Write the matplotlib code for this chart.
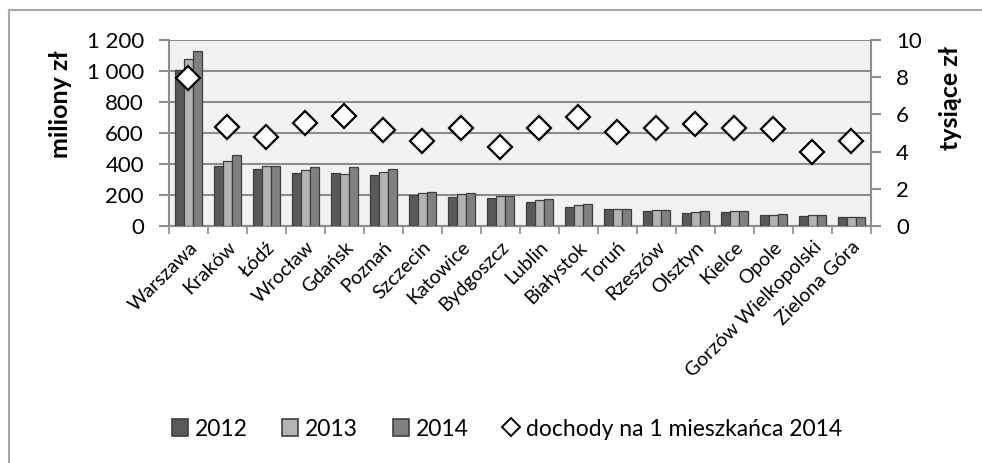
import matplotlib
matplotlib.use("Agg")
import matplotlib.pyplot as plt
import numpy as np
from matplotlib.patches import Patch
from matplotlib.lines import Line2D
from matplotlib.ticker import FuncFormatter

plt.rcParams['font.family'] = ['Lato', 'DejaVu Sans']

# Dochody miast (miliony zł) i dochody na 1 mieszkańca (tysiące zł)
cities = ["Warszawa", "Kraków", "Łódź", "Wrocław", "Gdańsk", "Poznań",
          "Szczecin", "Katowice", "Bydgoszcz", "Lublin", "Białystok", "Toruń",
          "Rzeszów", "Olsztyn", "Kielce", "Opole", "Gorzów Wielkopolski",
          "Zielona Góra"]
inc_2012 = [1006, 389, 366, 344, 342, 331, 202, 189, 181, 155, 125, 108,
            95, 86, 90, 71, 62, 56]
inc_2013 = [1079, 419, 385, 361, 335, 350, 215, 206, 194, 166, 133, 110,
            101, 90, 95, 71, 71, 58]
inc_2014 = [1131, 456, 389, 383, 378, 370, 219, 211, 194, 174, 140, 110,
            105, 97, 97, 80, 71, 60]
per_capita_2014 = [7.97, 5.31, 4.78, 5.55, 5.91, 5.16, 4.57, 5.29, 4.25,
                   5.29, 5.84, 5.04, 5.27, 5.50, 5.27, 5.20, 4.00, 4.57]

series = [("2012", inc_2012, "#595959"),
          ("2013", inc_2013, "#b3b3b3"),
          ("2014", inc_2014, "#808080")]

W, H = 982, 463
fig = plt.figure(figsize=(W / 100, H / 100), dpi=100)
ax = fig.add_axes([169 / W, 1 - 226 / H, (871 - 169) / W, (226 - 40) / H])
ax.set_facecolor("#f2f2f2")

x = np.arange(len(cities))
bw = 0.23
for k, (name, vals, col) in enumerate(series):
    ax.bar(x + (k - 1) * bw, vals, width=bw, color=col,
           edgecolor="#3f3f3f", linewidth=0.9, zorder=3)

grid_col = "#8c8c8c"
ax.set_xlim(-0.5, len(cities) - 0.5)
ax.set_ylim(0, 1200)
ax.set_yticks(np.arange(0, 1201, 200))
ax.yaxis.set_major_formatter(FuncFormatter(lambda v, p: f"{int(v):,}".replace(",", " ")))
ax.grid(axis="y", color=grid_col, linewidth=1.5, zorder=1)
ax.set_axisbelow(True)

# kreski podziałki między miastami, podpisy pod środkiem grup
ax.set_xticks(np.arange(-0.5, len(cities), 1.0))
ax.set_xticklabels([])
ax.set_xticks(x, minor=True)
ax.set_xticklabels(cities, minor=True, rotation=45, ha="right",
                   rotation_mode="anchor", fontsize=14)
ax.tick_params(axis="x", which="minor", length=0, pad=9)
ax.tick_params(axis="x", which="major", length=6, color=grid_col, width=1.2)
ax.tick_params(axis="y", length=7, color=grid_col, width=1.5, pad=11,
               labelsize=16)

for side in ["top", "right"]:
    ax.spines[side].set_visible(False)
for side in ["left", "bottom"]:
    ax.spines[side].set_color(grid_col)
    ax.spines[side].set_linewidth(1.5)

ax2 = ax.twinx()
ax2.set_ylim(0, 10)
ax2.set_yticks(np.arange(0, 11, 2))
ax2.plot(x, per_capita_2014, linestyle="none", marker="D", markersize=12,
         markerfacecolor="white", markeredgecolor="black",
         markeredgewidth=1.6, zorder=5)
ax2.tick_params(axis="y", length=7, color=grid_col, width=1.5, pad=11,
                labelsize=16)
for side in ["top", "left", "bottom"]:
    ax2.spines[side].set_visible(False)
ax2.spines["right"].set_color(grid_col)
ax2.spines["right"].set_linewidth(1.5)

fig.text(61 / W, 1 - 104 / H, "miliony zł", rotation=90, ha="center",
         va="center", fontsize=18, fontweight="bold")
fig.text(950 / W, 1 - 98 / H, "tysiące zł", rotation=90, ha="center",
         va="center", fontsize=18, fontweight="bold")

handles = [Patch(facecolor=c, edgecolor="#3f3f3f", linewidth=1.2)
           for _, _, c in series]
handles.append(Line2D([], [], linestyle="none", marker="D", markersize=9,
                      markerfacecolor="white", markeredgecolor="black",
                      markeredgewidth=1.4))
labels = [s[0] for s in series] + ["dochody na 1 mieszkańca 2014"]
fig.legend(handles, labels, loc="center", bbox_to_anchor=(507 / W, 1 - 429 / H),
           ncol=4, frameon=False, fontsize=16.5, handlelength=0.7,
           handleheight=0.7, handletextpad=0.3, columnspacing=1.5)

# ramka wykresu (lewa i górna krawędź)
fig.add_artist(Line2D([9 / W, 9 / W], [0, 1 - 10 / H], color="#a6a6a6",
                      linewidth=1.5, transform=fig.transFigure))
fig.add_artist(Line2D([9 / W, 1], [1 - 10 / H, 1 - 10 / H], color="#a6a6a6",
                      linewidth=1.5, transform=fig.transFigure))

fig.savefig("out.png", dpi=100, facecolor="white")
